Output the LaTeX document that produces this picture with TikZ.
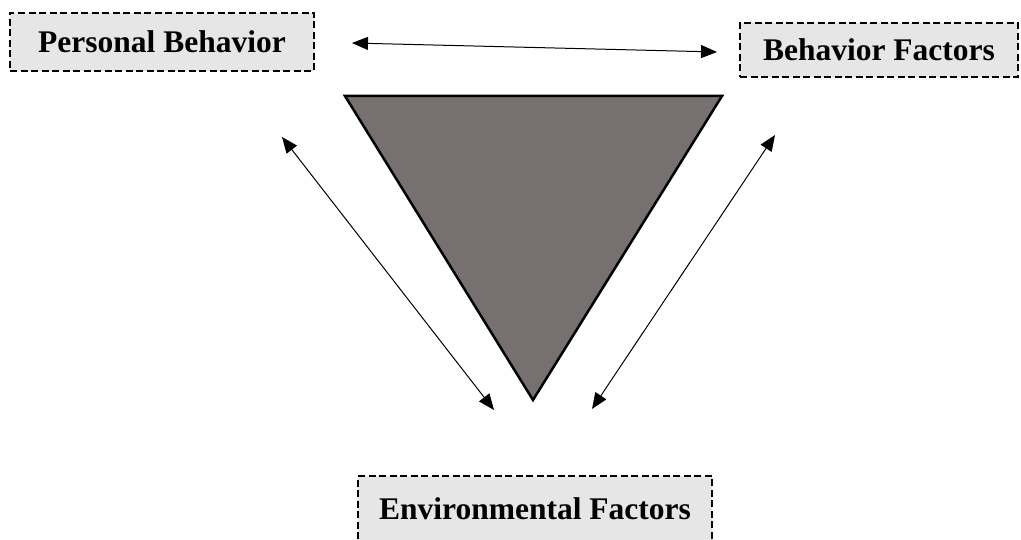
\documentclass[tikz,border=0pt]{standalone}
\usepackage{fontspec}
\setmainfont{Liberation Serif}
\usetikzlibrary{arrows.meta}
\definecolor{boxfill}{HTML}{E6E6E6}
\definecolor{trifill}{HTML}{767170}
\tikzset{
  labelbox/.style={draw=black, fill=boxfill, line width=2.2pt, dash pattern=on 7pt off 3.5pt,
    font=\fontsize{31.5}{36}\selectfont\bfseries, inner ysep=0pt, rectangle},
  link/.style={line width=1pt, {Triangle[length=16pt,width=13pt]}-{Triangle[length=16pt,width=13pt]}}
}
\begin{document}
\begin{tikzpicture}[x=1pt,y=-1pt]
\useasboundingbox (0,0) rectangle (1021,540);
\node[labelbox, minimum width=304pt, minimum height=58pt, inner xsep=0pt] (pb) at (162,42) {Personal Behavior};
\node[labelbox, anchor=north west, minimum height=54pt, inner xsep=23pt] (bf) at (739,22) {Behavior Factors};
\node[labelbox, anchor=north west, minimum height=66pt, inner xsep=21pt] (ef) at (357,475) {Environmental Factors};
\draw[fill=trifill, line width=2.5pt, line join=miter] (345,96) coordinate (t1) -- (722,96) coordinate (t2) -- (533,400) coordinate (t3) -- cycle;
\coordinate (h1) at (352,43);
\coordinate (h2) at (717,52);
\coordinate (l1) at (282,137);
\coordinate (l2) at (494,410);
\coordinate (r1) at (775,135);
\coordinate (r2) at (592,409);
\draw[link] (h1) -- (h2);
\draw[link] (l1) -- (l2);
\draw[link] (r1) -- (r2);
\end{tikzpicture}
\end{document}
